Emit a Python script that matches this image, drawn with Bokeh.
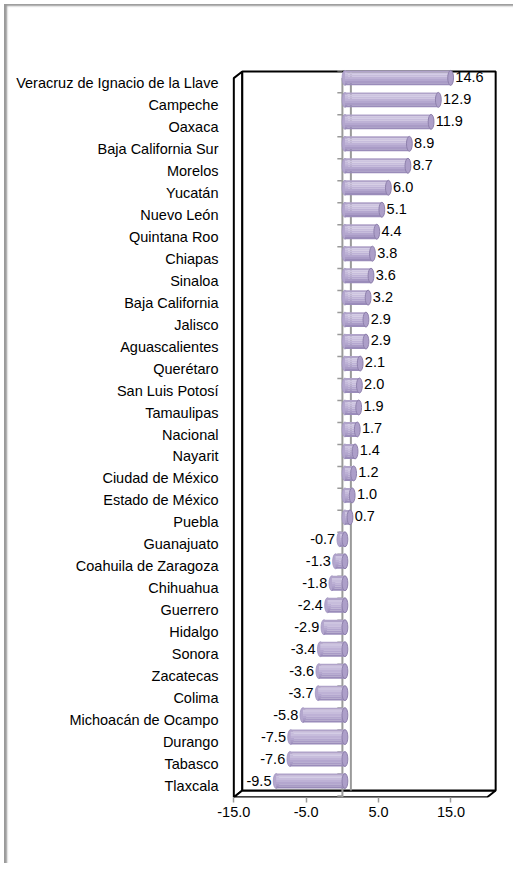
import numpy as np
from bokeh.plotting import figure
from bokeh.models import FixedTicker, Range1d, NumeralTickFormatter
from bokeh.embed import file_html
from bokeh.resources import INLINE
from bokeh.core.properties import value

# ---------------- data ----------------
states = [
    "Veracruz de Ignacio de la Llave", "Campeche", "Oaxaca", "Baja California Sur",
    "Morelos", "Yucatán", "Nuevo León", "Quintana Roo", "Chiapas", "Sinaloa",
    "Baja California", "Jalisco", "Aguascalientes", "Querétaro", "San Luis Potosí",
    "Tamaulipas", "Nacional", "Nayarit", "Ciudad de México", "Estado de México",
    "Puebla", "Guanajuato", "Coahuila de Zaragoza", "Chihuahua", "Guerrero",
    "Hidalgo", "Sonora", "Zacatecas", "Colima", "Michoacán de Ocampo", "Durango",
    "Tabasco", "Tlaxcala",
]
values = [
    14.6, 12.9, 11.9, 8.9, 8.7, 6.0, 5.1, 4.4, 3.8, 3.6, 3.2, 2.9, 2.9, 2.1, 2.0,
    1.9, 1.7, 1.4, 1.2, 1.0, 0.7, -0.7, -1.3, -1.8, -2.4, -2.9, -3.4, -3.6, -3.7,
    -5.8, -7.5, -7.6, -9.5,
]
x_ticks = [-15, -5, 5, 15]
axis_min, axis_max = -15, 20

# ---------------- styling / geometry ----------------
FONT = "Liberation Sans"
FS = "14.5px"
n = len(states)
ypos = np.array([n - 1 - i for i in range(n)], dtype=float)
vals = np.array(values)

dx, dy = 1.17, 0.30            # 3D depth offset (x units, rows)
wall_top = (n - 1) + 0.52
floor_back = -0.205
floor_front = floor_back - dy
xs, ys = 0.35, 0.23            # bar offset (mid-depth)
h = 0.68                       # bar thickness
cap_w = 0.8

p = figure(width=513, height=863, output_backend="svg", toolbar_location=None,
           x_range=Range1d(-15.32, 21.7), y_range=Range1d(-0.52, 32.84),
           min_border_left=231, min_border_right=14, min_border_top=64,
           min_border_bottom=66)
p.grid.visible = False
p.outline_line_color = None
p.background_fill_color = "white"
p.border_fill_color = None
p.styles = {"background": "white",
            "box-shadow": "inset 4px 4px 0 0 white, inset 7px 6px 2px 0 #9a9a9a"}

# 3D box: left wall, floor, back wall
lx0, lx1 = axis_min, axis_min + dx
rx0, rx1 = axis_max, axis_max + dx
p.patch([lx0, lx0, lx1, lx1], [floor_front, wall_top - dy, wall_top, floor_back],
        fill_color="white", line_color="black", line_width=2)
p.patch([lx0, lx1, rx1, rx0], [floor_front, floor_back, floor_back, floor_front],
        fill_color="white", line_color="black", line_width=2)
p.quad(left=[lx1], right=[rx1], bottom=[floor_back], top=[wall_top],
       fill_color="white", line_color="black", line_width=2)

# zero axis plane (front and back edges)
p.segment(x0=[dx], y0=[floor_back], x1=[dx], y1=[wall_top],
          line_color="#9a9a9a", line_width=2)
p.segment(x0=[0], y0=[floor_front], x1=[0], y1=[wall_top - dy],
          line_color="#9a9a9a", line_width=2)
# category tick marks
bnd = np.arange(-0.5, n, 1.0) + 0.05
p.segment(x0=np.full(len(bnd), -0.7), y0=bnd, x1=np.zeros(len(bnd)), y1=bnd,
          line_color="#9a9a9a", line_width=1.5)

# cylinders
lo = np.minimum(vals, 0) + xs
hi = np.maximum(vals, 0) + xs
yc = ypos + ys
p.ellipse(x=lo, y=yc, width=cap_w, height=h, fill_color="#b3a6cd",
          line_color="#a093bf", line_width=0.8)
strip_colors = ["#b0a3c9", "#cdc4e0", "#c7bddc", "#beb2d6", "#b4a7cf", "#a99bc6", "#9a8cba"]
k = len(strip_colors)
for j, c in enumerate(strip_colors):
    p.hbar(y=yc + h / 2 - (j + 0.5) * h / k, left=lo, right=hi, height=h / k,
           fill_color=c, line_color=None)
p.ellipse(x=hi, y=yc, width=cap_w, height=h, fill_color="#ad9fc9",
          line_color="#8e80ac", line_width=1)

# value labels
labels = [f"{v:.1f}" for v in values]
pos = vals >= 0
p.text(x=(hi + cap_w / 2 + 0.25)[pos], y=yc[pos] + 0.05,
       text=[l for l, q in zip(labels, pos) if q],
       text_font=value(FONT), text_font_size=FS, text_color="black",
       text_align="left", text_baseline="middle")
p.text(x=(lo - cap_w / 2 - 0.25)[~pos], y=yc[~pos],
       text=[l for l, q in zip(labels, pos) if not q],
       text_font=value(FONT), text_font_size=FS, text_color="black",
       text_align="right", text_baseline="middle")

# axes
p.xaxis.ticker = FixedTicker(ticks=x_ticks)
p.xaxis.formatter = NumeralTickFormatter(format="0.0")
p.xaxis.axis_line_color = None
p.xaxis.major_tick_line_color = "#9a9a9a"
p.xaxis.major_tick_line_width = 1.5
p.xaxis.major_tick_out = 5
p.xaxis.major_tick_in = 0
p.xaxis.minor_tick_line_color = None
p.xaxis.major_label_standoff = 4
p.xaxis.major_label_text_font = FONT
p.xaxis.major_label_text_font_size = FS
p.xaxis.major_label_text_color = "black"

p.yaxis.ticker = FixedTicker(ticks=list(ypos))
p.yaxis.major_label_overrides = {int(y): s for y, s in zip(ypos, states)}
p.yaxis.axis_line_color = None
p.yaxis.major_tick_line_color = None
p.yaxis.major_tick_out = 0
p.yaxis.major_tick_in = 0
p.yaxis.minor_tick_line_color = None
p.yaxis.major_label_standoff = 13
p.yaxis.major_label_text_font = FONT
p.yaxis.major_label_text_font_size = FS
p.yaxis.major_label_text_color = "black"

open("out.html", "w").write(file_html(p, INLINE))
